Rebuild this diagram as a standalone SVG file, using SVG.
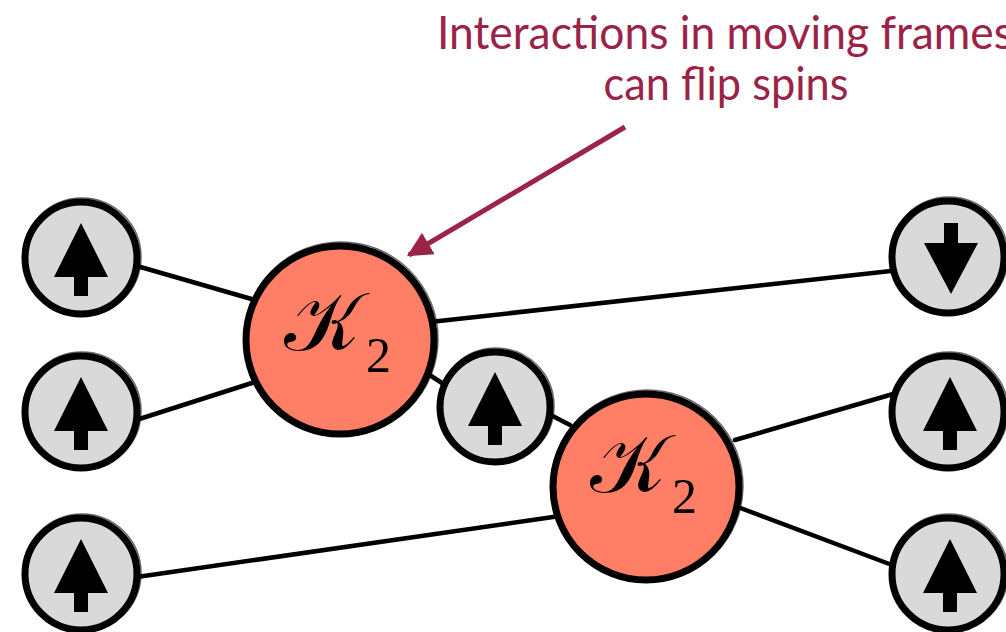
<svg xmlns="http://www.w3.org/2000/svg" width="1006" height="632" viewBox="0 0 1006 632">
<defs>
<style>
.spin{fill:#d9d9d9;stroke:#000;stroke-width:7}
.spin2{fill:none;stroke:#000;stroke-width:1.5;opacity:.6}
.k{fill:#ff7f66;stroke:#000;stroke-width:7}
.k2{fill:none;stroke:#000;stroke-width:1.5;opacity:.6}
.arr{fill:#000}
.conn line{stroke:#000;stroke-width:4.5;stroke-linecap:round}
.lbl{font-family:"Lato","Open Sans",sans-serif;font-size:47px;fill:#9b2348;text-anchor:middle}
.kt{font-family:"DejaVu Serif","Liberation Serif",serif;font-size:82px;fill:#000}
.sub{font-family:"Liberation Serif",serif;font-size:50px;fill:#000}
</style>
<marker id="ah" viewBox="0 0 10 10" refX="9" refY="5" markerWidth="5" markerHeight="5" orient="auto" markerUnits="strokeWidth">
<path d="M0,0 L10,5 L0,10 Z" fill="#9b2348"/>
</marker>
</defs>
<rect width="1006" height="632" fill="#fff"/>
<g id="connectors" class="conn">
<line x1="130" y1="264" x2="255" y2="300"/>
<line x1="130" y1="422" x2="255" y2="382"/>
<line x1="430" y1="322" x2="900" y2="270"/>
<line x1="425" y1="372" x2="445" y2="385"/>
<line x1="545" y1="412" x2="570" y2="425"/>
<line x1="130" y1="578" x2="560" y2="516"/>
<line x1="735" y1="440" x2="900" y2="392"/>
<line x1="735" y1="506" x2="900" y2="568"/>
</g>
<g id="spin-l1"><circle class="spin" cx="81" cy="258" r="56"/><circle class="spin2" cx="82" cy="257" r="59"/><path class="arr" d="M81,223 L108,277 L88,277 L88,296 L74,296 L74,277 L54,277 Z"/></g>
<g id="spin-l2"><circle class="spin" cx="81" cy="412" r="56"/><circle class="spin2" cx="82" cy="411" r="59"/><path class="arr" d="M81,377 L108,431 L88,431 L88,450 L74,450 L74,431 L54,431 Z"/></g>
<g id="spin-l3"><circle class="spin" cx="81" cy="574" r="56"/><circle class="spin2" cx="82" cy="573" r="59"/><path class="arr" d="M81,539 L108,593 L88,593 L88,612 L74,612 L74,593 L54,593 Z"/></g>
<g id="spin-m"><circle class="spin" cx="495" cy="407" r="55"/><circle class="spin2" cx="496" cy="406" r="58"/><path class="arr" d="M495,372 L522,426 L502,426 L502,445 L488,445 L488,426 L468,426 Z"/></g>
<g id="spin-r1"><circle class="spin" cx="948" cy="257" r="56"/><circle class="spin2" cx="949" cy="256" r="59"/><path class="arr" d="M951,294 L978,243 L958,243 L958,223 L944,223 L944,243 L924,243 Z"/></g>
<g id="spin-r2"><circle class="spin" cx="948" cy="412" r="56"/><circle class="spin2" cx="949" cy="411" r="59"/><path class="arr" d="M950,377 L977,431 L957,431 L957,450 L943,450 L943,431 L923,431 Z"/></g>
<g id="spin-r3"><circle class="spin" cx="948" cy="574" r="56"/><circle class="spin2" cx="949" cy="573" r="59"/><path class="arr" d="M950,539 L977,593 L957,593 L957,612 L943,612 L943,593 L923,593 Z"/></g>
<g id="k2-a"><circle class="k" cx="340" cy="340" r="94"/><circle class="k2" cx="341" cy="339" r="97"/><text class="kt" x="284" y="350">𝒦</text><text class="sub" x="366" y="372">2</text></g>
<g id="k2-b"><circle class="k" cx="646" cy="487" r="93"/><circle class="k2" cx="647" cy="486" r="96"/><text class="kt" x="590" y="492">𝒦</text><text class="sub" x="672" y="513">2</text></g>
<g id="label">
<text class="lbl" x="725" y="49" textLength="576" lengthAdjust="spacingAndGlyphs">Interactions in moving frames</text>
<text class="lbl" x="726" y="100" textLength="245" lengthAdjust="spacingAndGlyphs">can flip spins</text>
<line x1="625" y1="127" x2="409" y2="255" stroke="#9b2348" stroke-width="5" marker-end="url(#ah)"/>
</g>
</svg>
